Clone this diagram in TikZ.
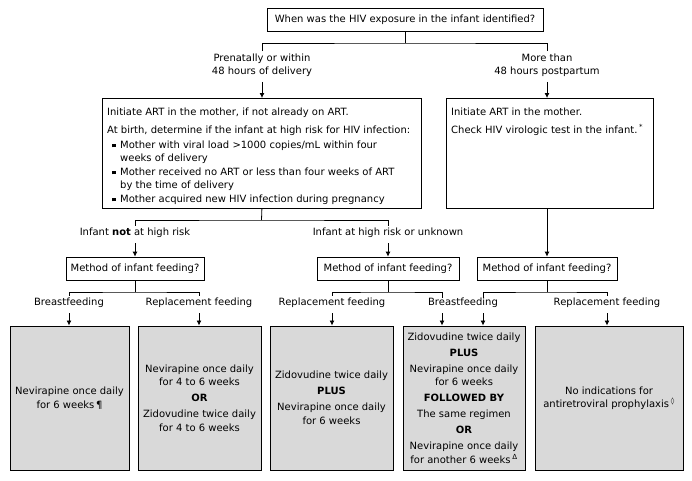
\documentclass[tikz,border=0pt]{standalone}
\usepackage{fontspec}
\setmainfont{DejaVu Sans}
\usetikzlibrary{arrows.meta}
\definecolor{regimengray}{RGB}{217,217,217}
\newcommand{\hivbullet}{\rule[1pt]{3.5pt}{3.5pt}}
\newcommand{\hivnote}[1]{\,\textsuperscript{#1}}
\tikzset{
  flow/.style={line width=0.8pt},
  flowarrow/.style={flow, -{Latex[length=5pt,width=5pt]}},
  labelarrow/.style={flowarrow, shorten <=3pt},
  question/.style={draw, line width=0.8pt, minimum height=23pt, inner sep=3pt},
  branch/.style={align=center, inner sep=2pt},
  regimen/.style={draw, line width=1pt, fill=regimengray, minimum height=144pt, align=center, inner sep=2pt}
}
\begin{document}
\begin{tikzpicture}[x=1pt, y=-1pt, font=\fontsize{10}{13.5}\selectfont]
    \path[fill=white] (0,0) rectangle (692,480);
    \useasboundingbox (0,0) rectangle (692,480);
    \node[question, minimum width=276pt] (exposure) at (405,19.5) {When was the HIV exposure in the infant identified?};
    \node[branch] (prenatal) at (262,65) {Prenatally or within\\48 hours of delivery};
    \node[branch] (postpartum) at (547,65) {More than\\48 hours postpartum};
    \coordinate (jexposure) at (405,43);
    \draw[flow] (exposure.south) -- (jexposure);
    \draw[flow] (prenatal.north) |- (jexposure) -| (postpartum.north);
    \node[draw, flow, minimum width=319pt, minimum height=110pt, anchor=north west] (artbox) at (102,98) {};
    \node[anchor=north west, align=left, inner sep=0pt] (arttext) at (107,107.5) {Initiate ART in the mother, if not already on ART.\\[4.5pt]
        At birth, determine if the infant at high risk for HIV infection:\\[1.5pt]
        \hspace*{5pt}\hivbullet\hspace{4.5pt}Mother with viral load >1000 copies/mL within four\\
        \hspace*{13pt}weeks of delivery\\
        \hspace*{5pt}\hivbullet\hspace{4.5pt}Mother received no ART or less than four weeks of ART\\
        \hspace*{13pt}by the time of delivery\\
        \hspace*{5pt}\hivbullet\hspace{4.5pt}Mother acquired new HIV infection during pregnancy};
    \node[draw, flow, minimum width=207pt, minimum height=110pt, anchor=north west] (checkbox) at (446,98) {};
    \node[anchor=north west, align=left, inner sep=0pt] (checktext) at (451,107.5) {Initiate ART in the mother.\\[4.5pt]
        Check HIV virologic test in the infant.\hivnote{*}};
    \draw[labelarrow] (prenatal.south) -- (prenatal.south |- artbox.north);
    \draw[labelarrow] (postpartum.south) -- (postpartum.south |- checkbox.north);
    \node[branch] (lowrisk) at (135,233) {Infant \textbf{not} at high risk};
    \node[branch] (highrisk) at (388,233) {Infant at high risk or unknown};
    \coordinate (jart) at (261.5,220);
    \draw[flow] (artbox.south) -- (jart);
    \draw[flow] (lowrisk.north) |- (jart) -| (highrisk.north);
    \node[question, minimum width=138pt] (feedlow) at (135,268.5) {Method of infant feeding?};
    \node[question, minimum width=142pt] (feedhigh) at (388,268.5) {Method of infant feeding?};
    \node[question, minimum width=140pt] (feedlate) at (547,268.5) {Method of infant feeding?};
    \draw[labelarrow] (lowrisk.south) -- (feedlow.north);
    \draw[labelarrow] (highrisk.south) -- (feedhigh.north);
    \draw[flowarrow] (feedlate.north |- checkbox.south) -- (feedlate.north);
    \node[branch] (breastlow) at (69,303) {Breastfeeding};
    \node[branch] (replacelow) at (199,303) {Replacement feeding};
    \node[branch] (replacehigh) at (332,303) {Replacement feeding};
    \node[branch] (breastshared) at (463,303) {Breastfeeding};
    \node[branch] (replacelate) at (607,303) {Replacement feeding};
    \coordinate (jlow) at (135,292);
    \coordinate (jhigh) at (388,292);
    \coordinate (jlate) at (547,292);
    \coordinate (breasthighend) at (442,298);
    \coordinate (breastlateend) at (483,298);
    \coordinate (breasthighstart) at (442,313);
    \coordinate (breastlatestart) at (483,313);
    \draw[flow] (feedlow.south) -- (jlow);
    \draw[flow] (breastlow.north) |- (jlow) -| (replacelow.north);
    \draw[flow] (feedhigh.south) -- (jhigh);
    \draw[flow] (replacehigh.north) |- (jhigh) -| (breasthighend);
    \draw[flow] (feedlate.south) -- (jlate);
    \draw[flow] (breastlateend) |- (jlate) -| (replacelate.north);
    \node[regimen, minimum width=119pt] (nvplow) at (69.5,398) {Nevirapine once daily\\for 6 weeks\,¶};
    \node[regimen, minimum width=123pt] (nvpreplace) at (199.5,398) {Nevirapine once daily\\for 4 to 6 weeks\\[2.5pt]\textbf{OR}\\[2.5pt]Zidovudine twice daily\\for 4 to 6 weeks};
    \node[regimen, minimum width=123pt] (dualreplace) at (331.5,398) {Zidovudine twice daily\\[2.5pt]\textbf{PLUS}\\[2.5pt]Nevirapine once daily\\for 6 weeks};
    \node[regimen, minimum width=122pt] (dualbreast) at (464,398) {Zidovudine twice daily\\[2.5pt]\textbf{PLUS}\\[2.5pt]Nevirapine once daily\\for 6 weeks\\[2.5pt]\textbf{FOLLOWED BY}\\[2.5pt]The same regimen\\[2.5pt]\textbf{OR}\\[2.5pt]Nevirapine once daily\\for another 6 weeks\hivnote{Δ}};
    \node[regimen, minimum width=148pt] (noprophylaxis) at (609,398) {No indications for\\antiretroviral prophylaxis\hivnote{◊}};
    \draw[labelarrow] (breastlow.south) -- (breastlow.south |- nvplow.north);
    \draw[labelarrow] (replacelow.south) -- (replacelow.south |- nvpreplace.north);
    \draw[labelarrow] (replacehigh.south) -- (replacehigh.south |- dualreplace.north);
    \draw[flowarrow] (breasthighstart) -- (breasthighstart |- dualbreast.north);
    \draw[flowarrow] (breastlatestart) -- (breastlatestart |- dualbreast.north);
    \draw[labelarrow] (replacelate.south) -- (replacelate.south |- noprophylaxis.north);
\end{tikzpicture}
\end{document}
